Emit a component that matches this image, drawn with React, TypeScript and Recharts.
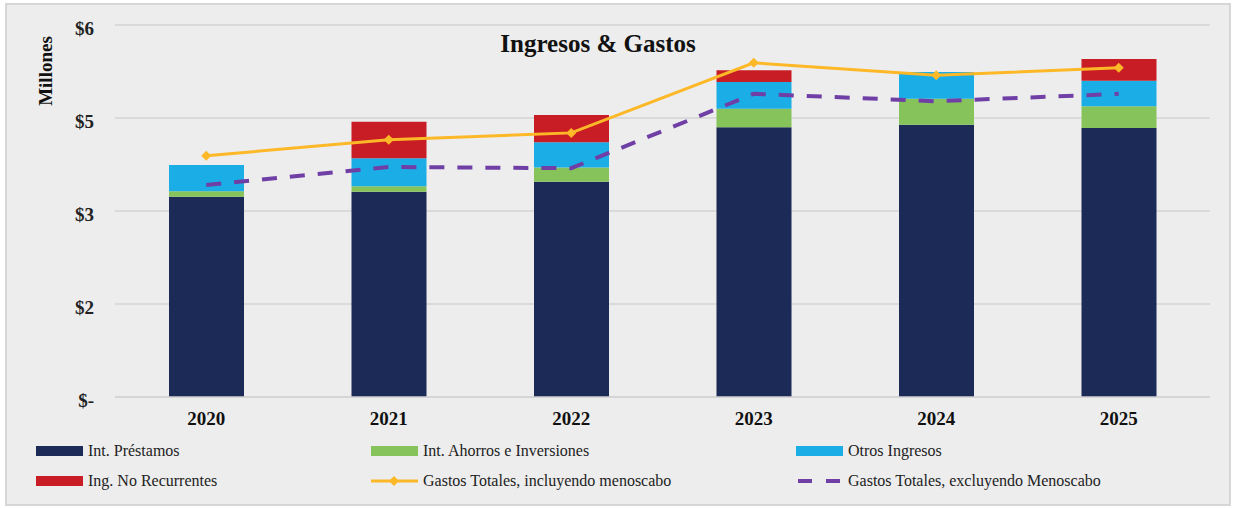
import React from "react";
import {
  ComposedChart,
  Bar,
  Line,
  XAxis,
  YAxis,
  CartesianGrid,
} from "recharts";

const years = ["2020", "2021", "2022", "2023", "2024", "2025"];
const intPrestamos = [3.23, 3.31, 3.47, 4.35, 4.39, 4.34];
const intAhorros = [0.09, 0.09, 0.23, 0.3, 0.42, 0.35];
const otrosIngresos = [0.42, 0.45, 0.41, 0.43, 0.43, 0.41];
const ingNoRecurrentes = [0, 0.59, 0.44, 0.19, 0, 0.35];
const gastosIncl = [3.89, 4.15, 4.26, 5.39, 5.19, 5.31];
const gastosExcl = [3.42, 3.71, 3.69, 4.89, 4.77, 4.89];
const yTicks = [0, 1.5, 3, 4.5, 6];

const data = years.map((y, i) => ({
  year: y,
  prest: intPrestamos[i],
  ahorro: intAhorros[i],
  otros: otrosIngresos[i],
  noRec: ingNoRecurrentes[i],
  incl: gastosIncl[i],
  excl: gastosExcl[i],
}));

const C = {
  navy: "#1c2a57",
  green: "#86c45b",
  cyan: "#1badE6",
  red: "#c81d25",
  gold: "#fdb827",
  purple: "#6f3fa6",
};

const FONT = "'Liberation Serif', 'Times New Roman', serif";

const Diamond = (props: any) => {
  const { cx, cy } = props;
  if (cx == null || cy == null) return null;
  const r = 5;
  return (
    <polygon
      points={`${cx},${cy - r} ${cx + r},${cy} ${cx},${cy + r} ${cx - r},${cy}`}
      fill={C.gold}
    />
  );
};

const fmt = (v: number) => (v === 0 ? "$-" : "$" + Math.round(v));

const legendItems = [
  { label: "Int. Préstamos", kind: "box", color: C.navy, x: 36, y: 451 },
  { label: "Int. Ahorros e Inversiones", kind: "box", color: C.green, x: 371, y: 451 },
  { label: "Otros Ingresos", kind: "box", color: C.cyan, x: 796, y: 451 },
  { label: "Ing. No Recurrentes", kind: "box", color: C.red, x: 36, y: 481 },
  { label: "Gastos Totales, incluyendo menoscabo", kind: "line", color: C.gold, x: 371, y: 481 },
  { label: "Gastos Totales, excluyendo Menoscabo", kind: "dash", color: C.purple, x: 796, y: 481 },
];

export default function App() {
  return (
    <div
      style={{
        position: "absolute",
        left: 0,
        top: 0,
        width: 1233,
        height: 508,
        background: "#ffffff",
        fontFamily: FONT,
      }}
    >
      <div
        style={{
          position: "absolute",
          left: 5,
          top: 3,
          width: 1222,
          height: 499,
          background: "#ededed",
          border: "2px solid #d6d6d6",
        }}
      />
      <div style={{ position: "absolute", left: 0, top: 0 }}>
        <ComposedChart
          width={1233}
          height={508}
          data={data}
          barCategoryGap={0}
          margin={{ top: 25, right: 23, left: 55, bottom: 80 }}
        >
          <CartesianGrid
            vertical={false}
            stroke="#d3d3d3"
            strokeWidth={1.5}
          />
          <XAxis
            dataKey="year"
            height={31}
            tickLine={false}
            axisLine={{ stroke: "#d3d3d3", strokeWidth: 1.5 }}
            tick={{ fontFamily: FONT, fontSize: 19, fontWeight: "bold", fill: "#111" }}
            tickMargin={9}
          />
          <YAxis
            width={60}
            domain={[0, 6]}
            ticks={yTicks}
            tickFormatter={fmt}
            axisLine={false}
            tickLine={false}
            tickMargin={15}
            tick={{ fontFamily: FONT, fontSize: 19, fontWeight: "bold", fill: "#222", dy: 3 }}
            label={{
              content: () => (
                <text
                  x={52}
                  y={71}
                  transform="rotate(-90,52,71)"
                  textAnchor="middle"
                  fontFamily={FONT}
                  fontSize={19}
                  fontWeight="bold"
                  fill="#111"
                >
                  Millones
                </text>
              ),
            }}
          />
          <Bar dataKey="prest" stackId="a" fill={C.navy} barSize={75} isAnimationActive={false} />
          <Bar dataKey="ahorro" stackId="a" fill={C.green} barSize={75} isAnimationActive={false} />
          <Bar dataKey="otros" stackId="a" fill={C.cyan} barSize={75} isAnimationActive={false} />
          <Bar dataKey="noRec" stackId="a" fill={C.red} barSize={75} isAnimationActive={false} />
          <Line
            dataKey="incl"
            stroke={C.gold}
            strokeWidth={3}
            dot={<Diamond />}
            activeDot={false}
            isAnimationActive={false}
          />
          <Line
            dataKey="excl"
            stroke={C.purple}
            strokeWidth={4}
            strokeDasharray="15 13"
            dot={false}
            activeDot={false}
            isAnimationActive={false}
          />
        </ComposedChart>
      </div>
      <div
        style={{
          position: "absolute",
          left: 0,
          width: 1196,
          top: 30,
          textAlign: "center",
          fontSize: 25,
          fontWeight: "bold",
          color: "#111",
          lineHeight: "28px",
          fontFamily: FONT,
        }}
      >
        Ingresos &amp; Gastos
      </div>
      {legendItems.map((it) => (
        <div
          key={it.label}
          style={{
            position: "absolute",
            left: it.x,
            top: it.y - 10,
            height: 20,
            display: "flex",
            alignItems: "center",
            fontSize: 16,
            color: "#222",
            whiteSpace: "nowrap",
            fontFamily: FONT,
          }}
        >
          <svg width={48} height={20} style={{ marginRight: 4 }}>
            {it.kind === "box" && <rect x={0} y={5} width={47} height={10} fill={it.color} />}
            {it.kind === "line" && (
              <g>
                <line x1={0} y1={10} x2={47} y2={10} stroke={it.color} strokeWidth={3} />
                <polygon points="23,5 28,10 23,15 18,10" fill={it.color} />
              </g>
            )}
            {it.kind === "dash" && (
              <line x1={2} y1={10} x2={47} y2={10} stroke={it.color} strokeWidth={4} strokeDasharray="14 14" />
            )}
          </svg>
          <span style={{ fontFamily: FONT }}>{it.label}</span>
        </div>
      ))}
    </div>
  );
}
